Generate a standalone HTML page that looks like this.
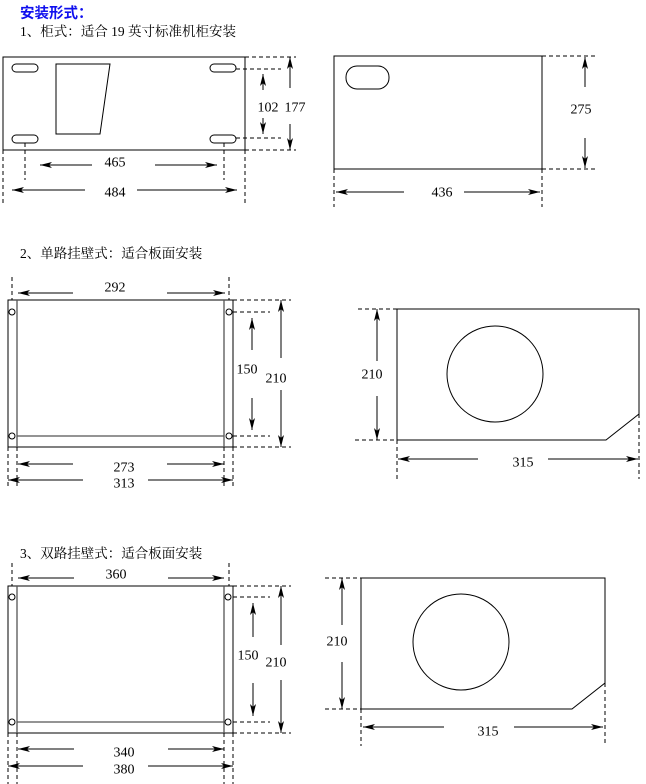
<!DOCTYPE html>
<html><head><meta charset="utf-8"><style>
html,body{margin:0;padding:0;background:#fff;}
svg{display:block;}
text{font-family:"Liberation Serif","Noto Serif CJK SC",serif;font-size:14px;fill:#000;}
.t{font-size:13.5px;}
.h{font-family:"Liberation Sans","Noto Sans CJK SC",sans-serif;font-size:14.5px;font-weight:bold;fill:#1010ee;}
.n{text-anchor:middle;dominant-baseline:central;}
</style></head><body>
<svg width="646" height="784" viewBox="0 0 646 784" xmlns="http://www.w3.org/2000/svg">
<defs>
<marker id="a" viewBox="0 0 12 6" refX="12" refY="3" markerWidth="12" markerHeight="6" markerUnits="userSpaceOnUse" orient="auto"><path d="M0,0 L12,3 L0,6 L3,3 z" fill="#000"/></marker>
</defs>
<text class="h" x="20" y="18">安装形式：</text>
<text class="t" x="20" y="36">1、柜式：适合 19 英寸标准机柜安装</text>
<text class="t" x="20" y="258">2、单路挂壁式：适合板面安装</text>
<text class="t" x="20" y="558">3、双路挂壁式：适合板面安装</text>

<g stroke="#000" fill="none" stroke-width="1">
<rect x="3" y="57" width="242" height="93"/>
<rect x="12" y="64" width="26" height="8" rx="4"/>
<rect x="12" y="135" width="26" height="8" rx="4"/>
<rect x="210" y="64" width="26" height="8" rx="4"/>
<rect x="210" y="135" width="26" height="8" rx="4"/>
<path d="M56,64 L110,64 L100,134 L56,134 Z"/>
<g stroke-dasharray="4,3">
<path d="M245,57 H296 M245,150 H296 M236,69 H281 M236,138 H281"/>
<path d="M3,150 V206 M245,150 V206 M25,143 V180 M224,143 V180"/>
</g>
<path d="M263,90 V74" marker-end="url(#a)"/><path d="M263,118 V134" marker-end="url(#a)"/>
<path d="M290,88 V57" marker-end="url(#a)"/><path d="M290,124 V150" marker-end="url(#a)"/>
<path d="M92,165 H40" marker-end="url(#a)"/><path d="M155,165 H217" marker-end="url(#a)"/>
<path d="M85,190 H12" marker-end="url(#a)"/><path d="M137,190 H237" marker-end="url(#a)"/>

<rect x="334" y="56" width="208" height="113"/>
<rect x="346" y="66" width="43" height="23" rx="11"/>
<g stroke-dasharray="4,3">
<path d="M542,56 H595 M542,169 H595 M334,169 V207 M542,169 V207"/>
</g>
<path d="M585,87 V57" marker-end="url(#a)"/><path d="M585,138 V168" marker-end="url(#a)"/>
<path d="M404,192 H336" marker-end="url(#a)"/><path d="M464,192 H540" marker-end="url(#a)"/>

<rect x="8" y="300" width="225" height="147"/>
<path d="M17,300 V447 M224,300 V447 M17,436 H224" stroke="#555" stroke-width="1.3"/>
<circle cx="12" cy="312" r="3" fill="#fff"/><circle cx="229" cy="312" r="3" fill="#fff"/>
<circle cx="12" cy="436" r="3" fill="#fff"/><circle cx="229" cy="436" r="3" fill="#fff"/>
<g stroke-dasharray="4,3">
<path d="M12,277 V300 M229,277 V300"/>
<path d="M233,300 H291 M233,312 H270 M233,436 H270 M233,447 H291"/>
<path d="M8,447 V486 M17,447 V486 M224,447 V486 M233,447 V486"/>
</g>
<path d="M73,293 H18" marker-end="url(#a)"/><path d="M167,293 H225" marker-end="url(#a)"/>
<path d="M252,350 V318" marker-end="url(#a)"/><path d="M252,398 V430" marker-end="url(#a)"/>
<path d="M281,358 V300" marker-end="url(#a)"/><path d="M281,390 V447" marker-end="url(#a)"/>
<path d="M73,464 H18" marker-end="url(#a)"/><path d="M167,464 H224" marker-end="url(#a)"/>
<path d="M83,480 H8" marker-end="url(#a)"/><path d="M148,480 H233" marker-end="url(#a)"/>

<path d="M397,309 H639 V414 L606,440 H397 Z"/>
<circle cx="495" cy="374" r="48"/>
<g stroke-dasharray="4,3">
<path d="M358,309 H397 M355,440 H397 M397,440 V479 M639,414 V479"/>
</g>
<path d="M377,361 V309" marker-end="url(#a)"/><path d="M377,396 V440" marker-end="url(#a)"/>
<path d="M478,459 H398" marker-end="url(#a)"/><path d="M548,459 H638" marker-end="url(#a)"/>

<rect x="8" y="586" width="225" height="147"/>
<path d="M17,586 V733 M224,586 V733 M17,722 H224" stroke="#555" stroke-width="1.3"/>
<circle cx="12" cy="597" r="3" fill="#fff"/><circle cx="228" cy="597" r="3" fill="#fff"/>
<circle cx="12" cy="722" r="3" fill="#fff"/><circle cx="228" cy="722" r="3" fill="#fff"/>
<g stroke-dasharray="4,3">
<path d="M12,563 V586 M229,563 V586"/>
<path d="M233,586 H291 M233,597 H270 M233,722 H270 M233,733 H291"/>
<path d="M8,733 V784 M17,733 V784 M224,733 V784 M233,733 V784"/>
</g>
<path d="M74,578 H18" marker-end="url(#a)"/><path d="M168,578 H224" marker-end="url(#a)"/>
<path d="M253,637 V603" marker-end="url(#a)"/><path d="M253,683 V716" marker-end="url(#a)"/>
<path d="M281,645 V586" marker-end="url(#a)"/><path d="M281,680 V733" marker-end="url(#a)"/>
<path d="M74,749 H18" marker-end="url(#a)"/><path d="M168,749 H224" marker-end="url(#a)"/>
<path d="M83,766 H8" marker-end="url(#a)"/><path d="M148,766 H233" marker-end="url(#a)"/>

<path d="M361,578 H605 V683 L572,709 H361 Z"/>
<ellipse cx="461" cy="642" rx="48" ry="48"/>
<g stroke-dasharray="4,3">
<path d="M325,578 H361 M325,709 H361 M361,709 V746 M605,683 V746"/>
</g>
<path d="M342,625 V578" marker-end="url(#a)"/><path d="M342,662 V709" marker-end="url(#a)"/>
<path d="M444,727 H363" marker-end="url(#a)"/><path d="M514,727 H603" marker-end="url(#a)"/>
</g>

<text class="n" x="268" y="108">102</text>
<text class="n" x="295" y="108">177</text>
<text class="n" x="115" y="163">465</text>
<text class="n" x="115" y="193">484</text>
<text class="n" x="581" y="110">275</text>
<text class="n" x="442" y="193">436</text>

<text class="n" x="115" y="288">292</text>
<text class="n" x="247" y="370">150</text>
<text class="n" x="276" y="379">210</text>
<text class="n" x="124" y="468">273</text>
<text class="n" x="124" y="484">313</text>
<text class="n" x="372" y="375">210</text>
<text class="n" x="523" y="463">315</text>

<text class="n" x="116" y="575">360</text>
<text class="n" x="248" y="656">150</text>
<text class="n" x="276" y="663">210</text>
<text class="n" x="124" y="753">340</text>
<text class="n" x="124" y="770">380</text>
<text class="n" x="337" y="642">210</text>
<text class="n" x="488" y="732">315</text>
</svg>
</body></html>
